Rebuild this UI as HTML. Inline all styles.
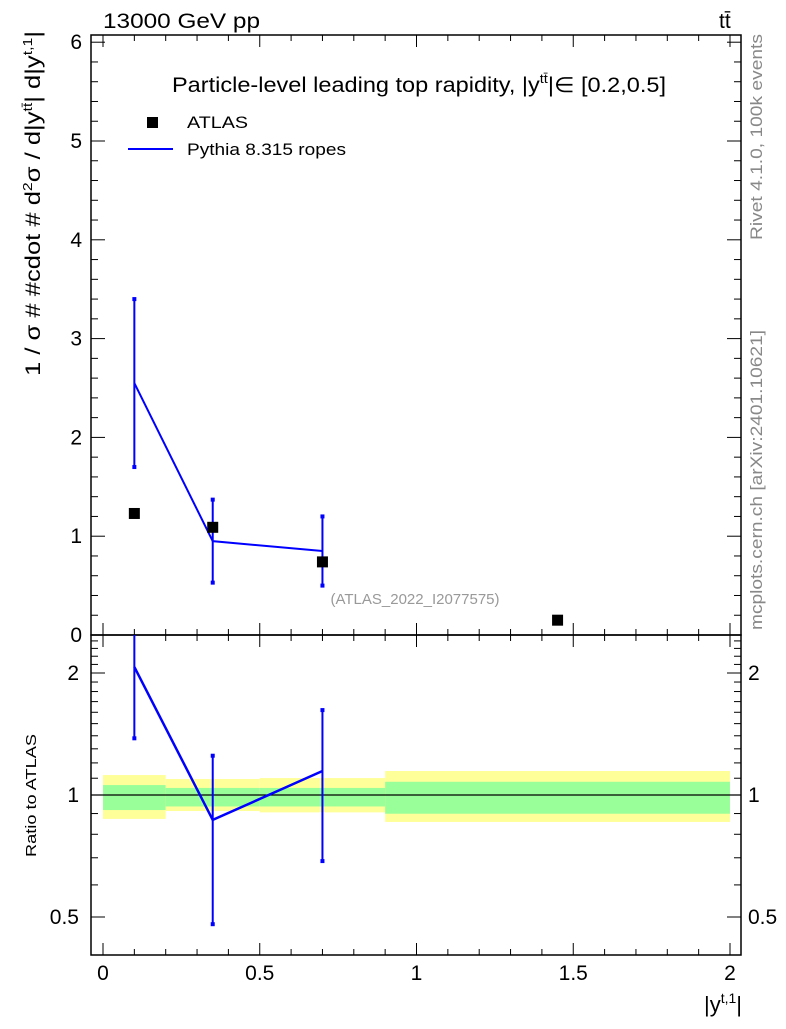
<!DOCTYPE html>
<html><head><meta charset="utf-8"><style>
body{margin:0;background:#fff}
svg{font-family:"Liberation Sans",sans-serif}
</style></head><body>
<svg id="c" width="786" height="1024" viewBox="0 0 786 1024">
<text x="103" y="28" font-size="21" textLength="157" lengthAdjust="spacingAndGlyphs">13000 GeV pp</text>
<text x="719" y="28" font-size="21">tt̄</text>
<text x="172" y="92" font-size="21" textLength="494" lengthAdjust="spacingAndGlyphs">Particle-level leading top rapidity, |y<tspan dy="-9" font-size="13">tt̄</tspan><tspan dy="9">|∈ [0.2,0.5]</tspan></text>
<rect x="147" y="117" width="11" height="11" fill="#000"/>
<text x="187" y="128" font-size="17" textLength="61" lengthAdjust="spacingAndGlyphs">ATLAS</text>
<line x1="128" y1="149" x2="173" y2="149" stroke="#0000ff" stroke-width="2"/>
<text x="187" y="155" font-size="17" textLength="159" lengthAdjust="spacingAndGlyphs">Pythia 8.315 ropes</text>
<text x="415" y="604" font-size="15" fill="#999" text-anchor="middle">(ATLAS_2022_I2077575)</text>
<text transform="translate(762,240) rotate(-90)" font-size="17" fill="#888" textLength="206" lengthAdjust="spacingAndGlyphs">Rivet 4.1.0,  100k events</text>
<text transform="translate(762,630) rotate(-90)" font-size="17" fill="#888" textLength="300" lengthAdjust="spacingAndGlyphs">mcplots.cern.ch [arXiv:2401.10621]</text>
<text transform="translate(40,376) rotate(-90)" font-size="21" textLength="345" lengthAdjust="spacingAndGlyphs">1 / σ # #cdot # d<tspan dy="-8" font-size="13">2</tspan><tspan dy="8">σ / d|y</tspan><tspan dy="-8" font-size="13">tt̄</tspan><tspan dy="8">| d|y</tspan><tspan dy="-8" font-size="13">t,1</tspan><tspan dy="8">|</tspan></text>
<text transform="translate(36,857) rotate(-90)" font-size="15" textLength="123" lengthAdjust="spacingAndGlyphs">Ratio to ATLAS</text>
<text x="742" y="1012" font-size="22" text-anchor="end">|y<tspan dy="-9" font-size="14">t,1</tspan><tspan dy="9">|</tspan></text>
<g id="g"></g>
</svg>
<script>
const binLo=[0,0.2,0.5,0.9];
const binHi=[0.2,0.5,0.9,2.0];
const atlasX=[0.1,0.35,0.7,1.45];
const atlasY=[1.23,1.09,0.74,0.15];
const pyX=[0.1,0.35,0.7];
const pyY=[2.55,0.95,0.85];
const pyLo=[1.7,0.53,0.5];
const pyHi=[3.4,1.37,1.2];
const rY=[2.07,0.868,1.146];
const rLo=[1.38,0.48,0.687];
const rHi=[3.0,1.25,1.62];
const yelLo=[0.873,0.913,0.906,0.858];
const yelHi=[1.12,1.095,1.101,1.146];
const grnLo=[0.918,0.937,0.937,0.899];
const grnHi=[1.058,1.041,1.041,1.078];
const xTicks=[0,0.5,1,1.5,2];
const xTickLabels=["0","0.5","1","1.5","2"];
const yTicks=[0,1,2,3,4,5,6];
const rTicks=[0.5,1,2];
const rTickLabels=["0.5","1","2"];

const L=91,R=741,T=35,M=635,B=955;
const X=v=>103+v*313.5;
const Y=v=>635-v*98.8;
const RY=v=>Math.max(M,Math.min(B,795-122*Math.log2(v)));
const g=document.getElementById('g');
const NS='http://www.w3.org/2000/svg';
function mk(t,a){const e=document.createElementNS(NS,t);for(const k in a)e.setAttribute(k,a[k]);g.appendChild(e);return e;}

for(let i=0;i<binLo.length;i++){
 let e=mk('rect',{x:X(binLo[i]),y:RY(yelHi[i]),width:X(binHi[i])-X(binLo[i]),height:RY(yelLo[i])-RY(yelHi[i]),fill:'#ffff99'});
 
 
 e=mk('rect',{x:X(binLo[i]),y:RY(grnHi[i]),width:X(binHi[i])-X(binLo[i]),height:RY(grnLo[i])-RY(grnHi[i]),fill:'#99ff99'});
 
 
}
let e=mk('line',{x1:L,x2:R,y1:RY(1),y2:RY(1),stroke:'#000','stroke-width':1.3});



e=mk('rect',{x:L,y:T,width:R-L,height:M-T,fill:'none',stroke:'#000','stroke-width':1.5});


e=mk('rect',{x:L,y:M,width:R-L,height:B-M,fill:'none',stroke:'#000','stroke-width':1.5});



for(let v=0;v<=2.0001;v+=0.1){
 const maj=Math.abs(v*2-Math.round(v*2))<1e-6;const h=maj?12:6;
 for(const [y0,d] of [[T,1],[M,-1],[M,1],[B,-1]]){
  e=mk('line',{x1:X(v),x2:X(v),y1:y0,y2:y0+d*h,stroke:'#000'});
  
  
 }
}
xTicks.forEach((v,i)=>{e=mk('text',{x:X(v),y:980,'font-size':21,'text-anchor':'middle'});e.textContent=xTickLabels[i];
 
 });
for(let v=0;v<=6.001;v+=0.2){
 const maj=Math.abs(v-Math.round(v))<1e-6;const h=maj?14:7;
 e=mk('line',{x1:L,x2:L+h,y1:Y(v),y2:Y(v),stroke:'#000'});
 
 
 e=mk('line',{x1:R,x2:R-h,y1:Y(v),y2:Y(v),stroke:'#000'});
 
 
}
yTicks.forEach(v=>{e=mk('text',{x:82,y:Y(v)+7,'font-size':21,'text-anchor':'end'});e.textContent=String(v);
 
 });
for(let v=0.4;v<=2.5;v+=0.1){
 const maj=rTicks.some(t=>Math.abs(t-v)<1e-6);const h=maj?14:7;const yy=RY(v);
 if(yy<=M||yy>=B)continue;
 e=mk('line',{x1:L,x2:L+h,y1:yy,y2:yy,stroke:'#000'});
 
 
 e=mk('line',{x1:R,x2:R-h,y1:yy,y2:yy,stroke:'#000'});
 
 
}
rTicks.forEach((v,i)=>{
 e=mk('text',{x:79,y:RY(v)+7,'font-size':21,'text-anchor':'end'});e.textContent=rTickLabels[i];
 
 
 e=mk('text',{x:748,y:RY(v)+7,'font-size':21});e.textContent=rTickLabels[i];
 
 
});

e=mk('polyline',{points:pyX.map((x,i)=>X(x)+','+Y(pyY[i])).join(' '),fill:'none',stroke:'#0000ff','stroke-width':2});


pyX.forEach((x,i)=>{
 e=mk('line',{x1:X(x),x2:X(x),y1:Y(pyLo[i]),y2:Y(pyHi[i]),stroke:'#0000ff','stroke-width':2});
 
 
 [pyLo[i],pyHi[i]].forEach(v=>{const c=mk('rect',{x:X(x)-2,y:Y(v)-2,width:4,height:4,fill:'#0000ff'});
  
  });
});
atlasX.forEach((x,i)=>{
 e=mk('rect',{x:X(x)-5.5,y:Y(atlasY[i])-5.5,width:11,height:11,fill:'#000'});
 
 
});
e=mk('polyline',{points:pyX.map((x,i)=>X(x)+','+RY(rY[i])).join(' '),fill:'none',stroke:'#0000ff','stroke-width':2.5});


pyX.forEach((x,i)=>{
 e=mk('line',{x1:X(x),x2:X(x),y1:RY(rLo[i]),y2:RY(rHi[i]),stroke:'#0000ff','stroke-width':2});
 
 
 [rLo[i],rHi[i]].forEach(v=>{const yy=RY(v);if(yy<=M)return;const c=mk('rect',{x:X(x)-2,y:yy-2,width:4,height:4,fill:'#0000ff'});
  
  });
});
</script>
</body></html>
